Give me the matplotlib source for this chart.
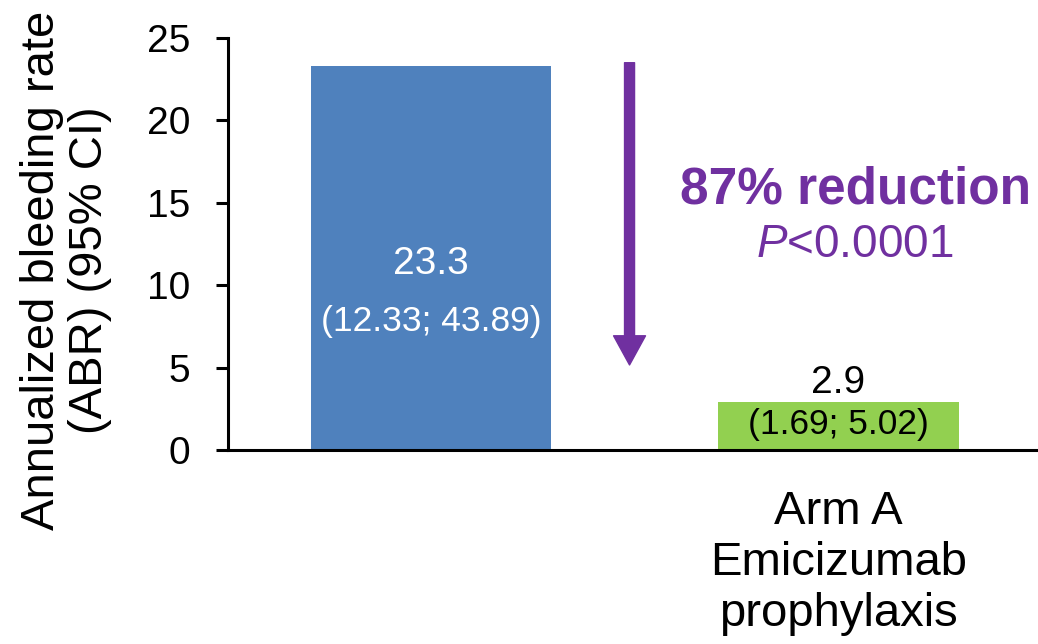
import matplotlib
matplotlib.use('Agg')
import matplotlib.pyplot as plt

plt.rcParams['font.family'] = ['Liberation Sans', 'DejaVu Sans']
plt.rcParams['mathtext.fontset'] = 'custom'
plt.rcParams['mathtext.rm'] = 'Liberation Sans'
plt.rcParams['mathtext.it'] = 'Liberation Sans:italic'

# ABR per arm with 95% CI
arms = ['', 'Arm A\nEmicizumab\nprophylaxis']
abr = [23.3, 2.9]
ci_low = [12.33, 1.69]
ci_high = [43.89, 5.02]
bar_colors = ['#4F81BD', '#92D050']
label_colors = ['white', 'black']
reduction_text = '87% reduction'
p_text = r'$\it{P}$<0.0001'
yticks = [0, 5, 10, 15, 20, 25]

purple = '#7030A0'

fig = plt.figure(figsize=(10.38, 6.44), dpi=100)
ax = fig.add_axes([228 / 1038, 1 - 450 / 644, 810 / 1038, 412 / 644])

x = list(range(len(abr)))
ax.bar(x, abr, width=0.59, color=bar_colors, zorder=2)

# value and CI labels
value_y = [11.29, 4.07]
ci_y = [7.77, 1.52]
for i in x:
    ax.text(i, value_y[i], f'{abr[i]}', ha='center', va='center',
            fontsize=28, color=label_colors[i], zorder=3)
    ax.text(i, ci_y[i], f'({ci_low[i]:.2f}; {ci_high[i]:.2f})', ha='center',
            va='center', fontsize=25.5, color=label_colors[i], zorder=3)

# reduction arrow between arms
ax.annotate('', xy=(0.487, 5.16), xytext=(0.487, 23.5),
            arrowprops=dict(arrowstyle='simple,head_length=2.1,head_width=2.3,tail_width=0.72',
                            color=purple, mutation_scale=10, shrinkA=0, shrinkB=0))
ax.text(1.042, 15.8, reduction_text, ha='center', va='center', fontsize=37,
        fontweight='bold', color=purple)
ax.text(1.04, 12.45, p_text, ha='center', va='center', fontsize=33, color=purple)

ax.set_xlim(-0.499, 1.49)
ax.set_ylim(0, 25)
ax.set_yticks(yticks)
ax.set_xticks(x)
ax.set_xticklabels(arms, fontsize=34, linespacing=1.2)
ax.tick_params(axis='x', length=0, pad=29)
ax.tick_params(axis='y', labelsize=28, length=9, width=2.2, pad=18)

for side in ['top', 'right']:
    ax.spines[side].set_visible(False)
for side in ['left', 'bottom']:
    ax.spines[side].set_linewidth(2.2)

fig.text(66 / 1038, 1 - 270 / 644, 'Annualized bleeding rate\n(ABR) (95% CI)',
         rotation=90, ha='center', va='center', fontsize=34, linespacing=1.1,
         multialignment='center')

fig.savefig('out.png', dpi=100)
